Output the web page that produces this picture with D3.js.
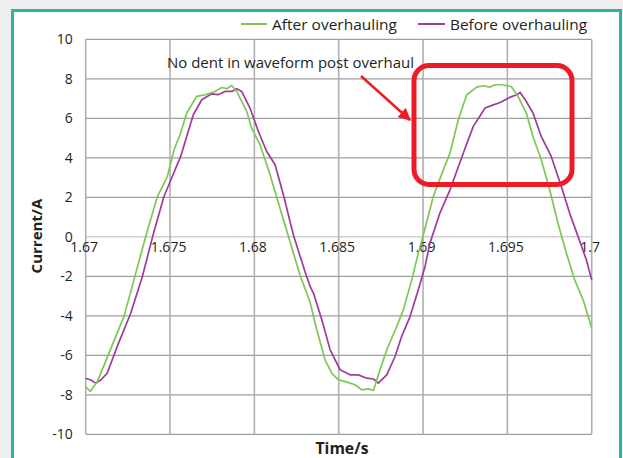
<!DOCTYPE html>
<html><head><meta charset="utf-8">
<script src="https://cdn.jsdelivr.net/npm/d3@7"></script>
<style>
html,body{margin:0;padding:0;background:#eeeeee;}
svg{display:block;}
text{font-family:"Open Sans",sans-serif;fill:#231f20;}
</style></head>
<body>
<svg id="c" width="623" height="458"></svg>
<script>
// ---- data ----
const afterT = [1.6700,1.67026,1.67069,1.67138,1.67227,1.67286,1.67356,1.67425,1.67484,1.67524,1.67559,1.67599,1.67658,1.67707,1.67767,1.67806,1.67836,1.67866,1.67895,1.67955,1.67984,1.68034,1.68093,1.68152,1.68211,1.68271,1.68330,1.68370,1.68419,1.68459,1.68498,1.68548,1.68597,1.68637,1.68676,1.68706,1.68745,1.68785,1.68844,1.68883,1.68933,1.68972,1.69002,1.69061,1.69120,1.69160,1.69209,1.69259,1.69318,1.69358,1.69397,1.69427,1.69466,1.69523,1.69563,1.69612,1.69652,1.69701,1.69751,1.69800,1.69850,1.69899,1.69949,1.70000];
const afterI = [-7.58,-7.83,-7.33,-5.89,-4.03,-2.18,0.02,2.04,3.05,4.41,5.17,6.27,7.11,7.19,7.36,7.56,7.50,7.66,7.36,6.35,5.50,4.66,3.14,1.45,-0.24,-1.95,-3.30,-4.71,-6.23,-6.90,-7.24,-7.36,-7.49,-7.75,-7.70,-7.78,-6.73,-5.72,-4.54,-3.70,-2.18,-0.83,0.10,2.04,3.39,4.24,5.93,7.19,7.58,7.65,7.58,7.70,7.70,7.61,7.11,6.27,5.08,3.90,2.38,0.69,-0.83,-2.18,-3.19,-4.60];
const beforeT = [1.6700,1.67030,1.67059,1.67090,1.67128,1.67187,1.67267,1.67336,1.67405,1.67464,1.67563,1.67638,1.67688,1.67747,1.67786,1.67826,1.67866,1.67895,1.67925,1.67974,1.68024,1.68073,1.68123,1.68172,1.68231,1.68300,1.68330,1.68350,1.68400,1.68449,1.68508,1.68567,1.68617,1.68666,1.68706,1.68735,1.68785,1.68834,1.68873,1.68923,1.68972,1.69012,1.69041,1.69100,1.69160,1.69239,1.69298,1.69368,1.69417,1.69457,1.69516,1.69557,1.69576,1.69606,1.69652,1.69701,1.69760,1.69820,1.69869,1.69919,1.69968,1.70000];
const beforeI = [-7.16,-7.25,-7.41,-7.25,-6.90,-5.55,-3.87,-2.01,0.27,2.04,4.07,6.18,6.94,7.24,7.20,7.36,7.36,7.50,7.36,6.52,5.33,4.32,3.65,2.13,0.10,-1.76,-2.50,-2.85,-4.20,-5.72,-6.73,-6.99,-6.99,-7.16,-7.20,-7.41,-6.99,-6.06,-5.05,-4.04,-2.68,-1.50,-0.32,1.20,2.38,4.24,5.59,6.52,6.68,6.80,7.07,7.19,7.31,6.94,6.27,5.08,4.07,2.55,1.20,0.02,-1.16,-2.18];
const seriesNames = ["After overhauling","Before overhauling"];
const xTicks = [1.67,1.675,1.68,1.685,1.69,1.695,1.7];
const xTickLabels = ["1.67","1.675","1.68","1.685","1.69","1.695","1.7"];
const yTicks = [-10,-8,-6,-4,-2,0,2,4,6,8,10];
const yTickLabels = ["-10","-8","-6","-4","-2","0","2","4","6","8","10"];
const annotation = "No dent in waveform post overhaul";
const xTitle = "Time/s", yTitle = "Current/A";

// ---- drawing ----
const svg = d3.select("#c");
const colors = ["#7dc855","#9e3c9c"];
const L = 85.7, R = 591.7, T = 39.3, B = 434.3;
const x = d3.scaleLinear().domain([1.67,1.7]).range([L,R]);
const y = d3.scaleLinear().domain([-10,10]).range([B,T]);

// frame
svg.append("rect").attr("x",12.5).attr("y",10.5).attr("width",608).attr("height",460)
  .attr("fill","#ffffff").attr("stroke","#2cb69b").attr("stroke-width",3);

// horizontal grid
svg.append("g").selectAll("line").data(yTicks).join("line")
  .attr("x1",L).attr("x2",R).attr("y1",d=>y(d)).attr("y2",d=>y(d))
  .attr("stroke",d=>d===0?"#cfcfcf":"#9d9d9d").attr("stroke-width",d=>d===0?1.6:1.2);
// vertical grid
svg.append("g").selectAll("line").data(xTicks).join("line")
  .attr("x1",d=>x(d)).attr("x2",d=>x(d)).attr("y1",T).attr("y2",B)
  .attr("stroke","#b0b0b0").attr("stroke-width",1.6);

// y axis labels
const yAxis = d3.axisLeft(y).tickValues(yTicks).tickSize(0).tickPadding(13)
  .tickFormat((d,i)=>yTickLabels[i]);
const gy = svg.append("g").attr("transform",`translate(${L},0)`).call(yAxis);
gy.select(".domain").remove();
gy.selectAll("text").style("font-size","14px").style("font-family","'Open Sans',sans-serif").attr("fill","#231f20");

// x axis labels along zero line
const xAxis = d3.axisBottom(x).tickValues(xTicks).tickSize(0).tickPadding(5)
  .tickFormat((d,i)=>xTickLabels[i]);
const gx = svg.append("g").attr("transform",`translate(-2,${y(0)})`).call(xAxis);
gx.select(".domain").remove();
gx.selectAll("text").style("font-size","14px").style("font-family","'Open Sans',sans-serif").attr("fill","#231f20");

// lines
const line = d3.line().x(d=>x(d[0])).y(d=>y(d[1]));
const after = afterT.map((t,i)=>[t,afterI[i]]);
const before = beforeT.map((t,i)=>[t,beforeI[i]]);
svg.append("path").datum(before).attr("d",line).attr("fill","none")
  .attr("stroke",colors[1]).attr("stroke-width",1.7).attr("stroke-linejoin","round");
svg.append("path").datum(after).attr("d",line).attr("fill","none")
  .attr("stroke",colors[0]).attr("stroke-width",1.7).attr("stroke-linejoin","round");

// axis titles
svg.append("text").attr("x",342).attr("y",453.5).attr("text-anchor","middle")
  .style("font-size","16px").style("font-weight","bold")
  .attr("textLength",53).attr("lengthAdjust","spacingAndGlyphs").text(xTitle);
svg.append("text").attr("transform","translate(42,236) rotate(-90)").attr("text-anchor","middle")
  .style("font-size","15px").style("font-weight","bold").text(yTitle);

// legend
const leg = [{x1:241,x2:267,tx:272},{x1:418,x2:445,tx:450}];
leg.forEach((l,i)=>{
  svg.append("line").attr("x1",l.x1).attr("x2",l.x2).attr("y1",24).attr("y2",24)
    .attr("stroke",colors[i]).attr("stroke-width",2);
  svg.append("text").attr("x",l.tx).attr("y",30).style("font-size","15px")
    .attr("textLength",i===0?125:137).attr("lengthAdjust","spacingAndGlyphs").text(seriesNames[i]);
});

// annotation
svg.append("text").attr("x",167).attr("y",68).style("font-size","14px")
  .attr("textLength",247).attr("lengthAdjust","spacingAndGlyphs").text(annotation);
svg.append("defs").append("marker").attr("id","ah").attr("viewBox","0 0 10 10")
  .attr("refX",9).attr("refY",5).attr("markerWidth",5).attr("markerHeight",5)
  .attr("orient","auto").attr("markerUnits","strokeWidth")
  .append("path").attr("d","M0,0 L10,5 L0,10 Z").attr("fill","#ed1c24");
svg.append("line").attr("x1",361).attr("y1",76).attr("x2",410).attr("y2",120)
  .attr("stroke","#ed1c24").attr("stroke-width",2.5).attr("marker-end","url(#ah)");
svg.append("rect").attr("x",414).attr("y",65.5).attr("width",158).attr("height",119)
  .attr("rx",15).attr("ry",15).attr("fill","none").attr("stroke","#ed1c24").attr("stroke-width",5);
</script>
</body></html>
